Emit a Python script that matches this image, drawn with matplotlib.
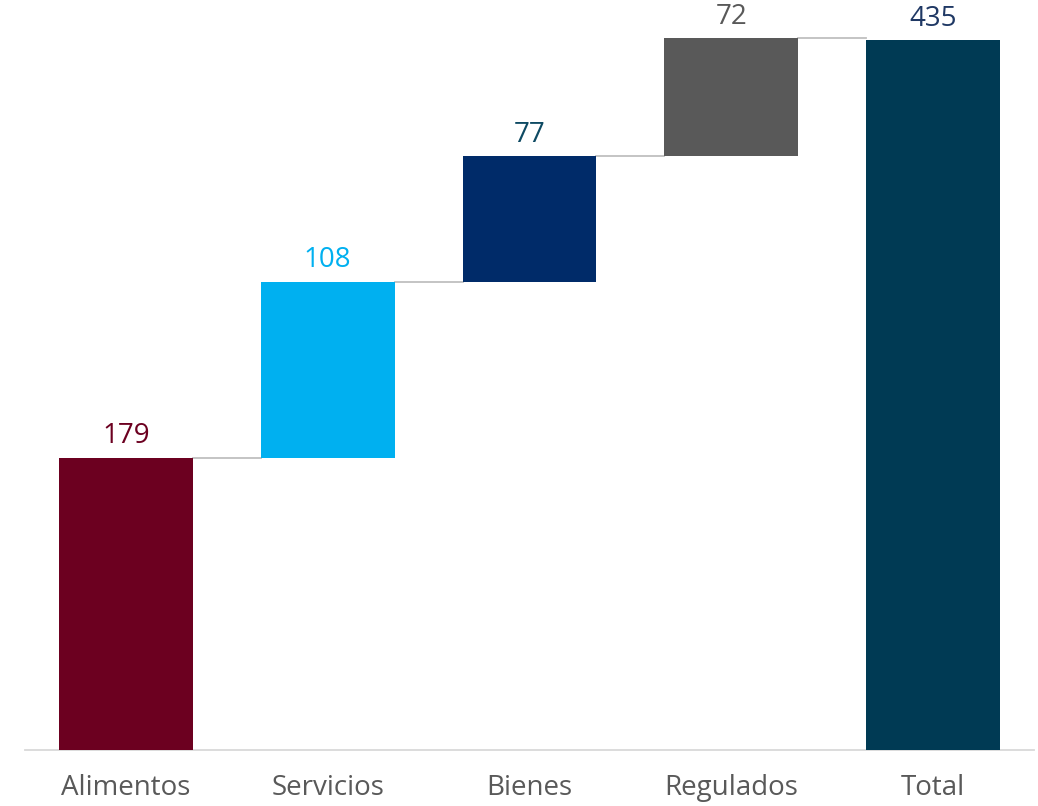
import numpy as np
import matplotlib.pyplot as plt

plt.rcParams['font.family'] = ['Open Sans', 'DejaVu Sans']

categorias = ['Alimentos', 'Servicios', 'Bienes', 'Regulados', 'Total']
valores = [179, 108, 77, 72]
total = 435
colores = ['#6C0020', '#00B0F0', '#002B69', '#595959', '#003A54']
colores_texto = ['#6C0020', '#00B0F0', '#0E4A63', '#595959', '#1F3864']

# bases acumuladas del waterfall
bases = np.concatenate([[0], np.cumsum(valores)[:-1]])
alturas = valores + [total]
bases = list(bases) + [0]
x = np.arange(len(categorias))
ancho = 0.663

fig = plt.figure(figsize=(10.38, 8.06), dpi=100)
ax = fig.add_axes([25 / 1038, 1 - 750 / 806, 1009 / 1038, 740 / 806])

ax.bar(x, alturas, bottom=bases, width=ancho, color=colores, zorder=3)

# lineas conectoras
tops = [b + h for b, h in zip(bases, alturas)]
for i in range(len(categorias) - 1):
    ax.plot([x[i] + ancho / 2, x[i + 1] - ancho / 2], [tops[i], tops[i]],
            color='#BFBFBF', lw=1.3, zorder=2)

for i, etiqueta in enumerate(valores + [total]):
    ax.text(x[i], tops[i] + 4.5, str(etiqueta), ha='center', va='bottom',
            fontsize=20, color=colores_texto[i])

ax.set_xlim(-0.5, len(categorias) - 0.5)
ax.set_ylim(0, total * 740 / 710)
ax.set_xticks(x)
ax.set_xticklabels(categorias, fontsize=20, color='#595959')
ax.tick_params(axis='x', length=0, pad=17)
ax.set_yticks([])
for lado in ['top', 'right', 'left']:
    ax.spines[lado].set_visible(False)
ax.spines['bottom'].set_color('#D9D9D9')
ax.spines['bottom'].set_linewidth(1.3)

fig.savefig('out.png', dpi=100)
